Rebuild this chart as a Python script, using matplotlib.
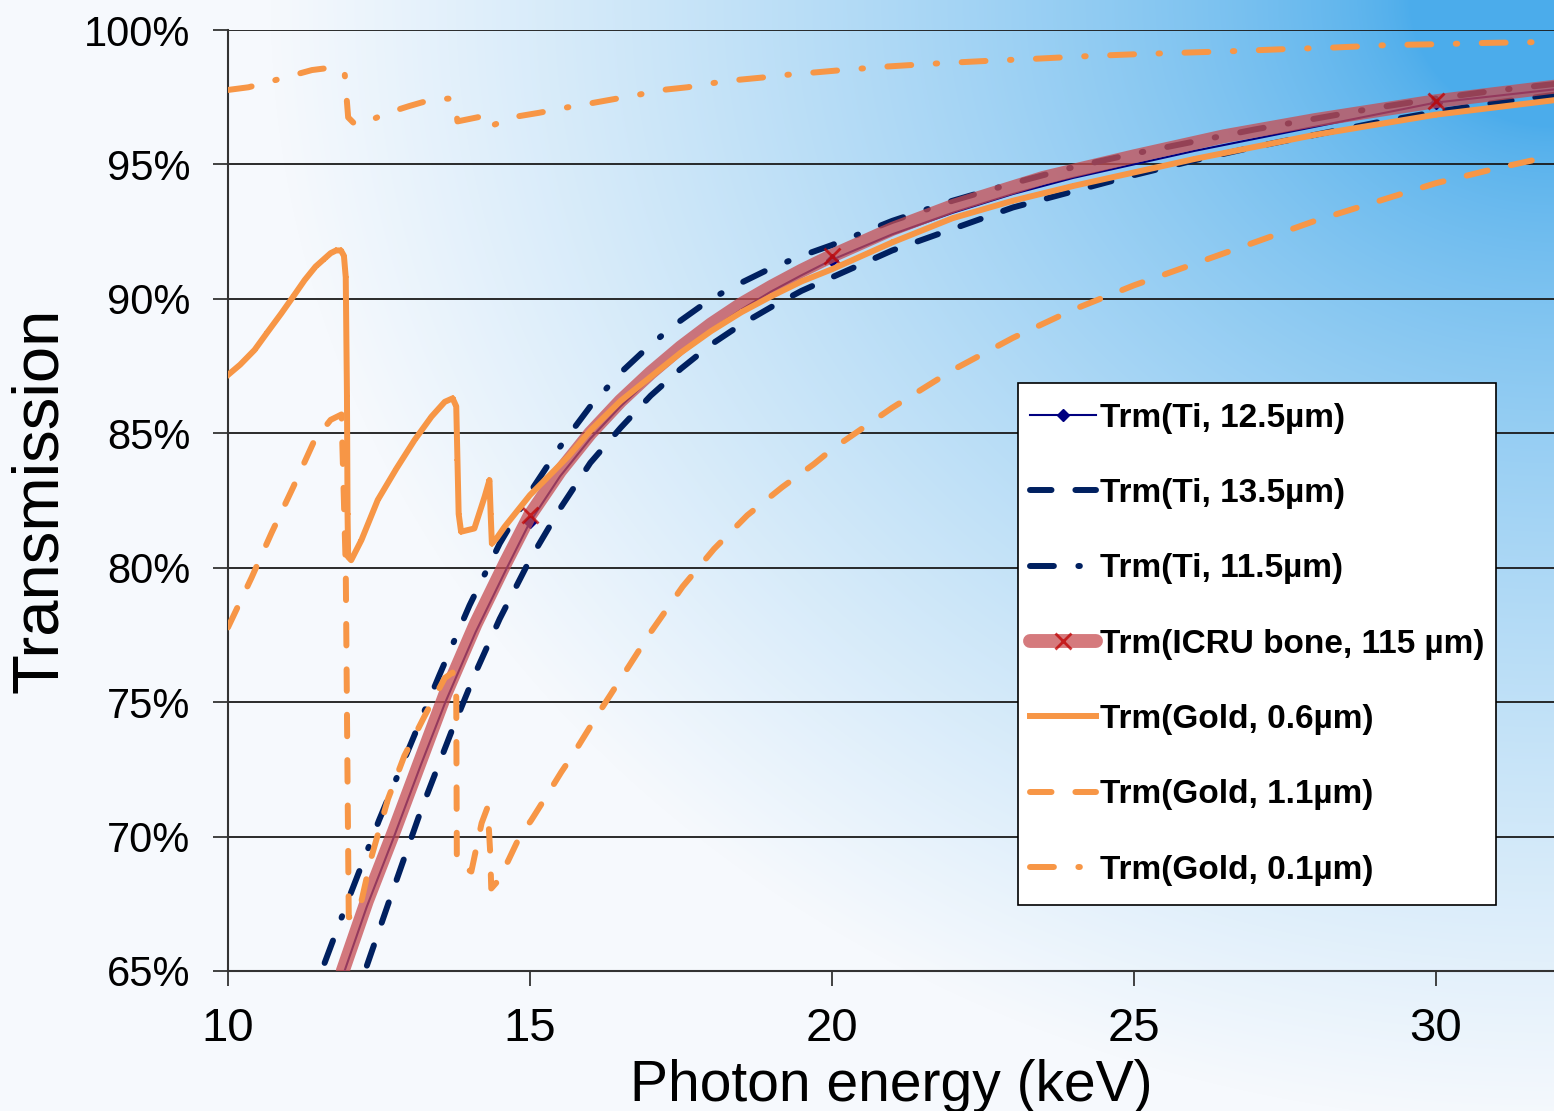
import numpy as np
import matplotlib
matplotlib.use("Agg")
import matplotlib.pyplot as plt
from matplotlib.patches import Rectangle
from matplotlib.ticker import FuncFormatter

plt.rcParams['font.family'] = ['Liberation Sans', 'DejaVu Sans']

# --- data (photon energy keV, transmission %) ---
e_ti125 = [11.93, 12.3, 12.75, 13.2, 13.6, 14.1, 14.62, 15.0, 15.5, 16.0, 16.5, 17.0, 17.5, 18.0,
           18.5, 19.0, 19.5, 20.0, 21.0, 22.0, 23.0, 24.0, 25.0, 26.0, 27.0, 28.0, 29.0, 30.0,
           31.0, 32.0]
t_ti125 = [65.0, 67.4, 70.0, 72.7, 75.0, 77.6, 80.0, 81.7, 83.4, 84.8, 86.0, 87.05, 88.0, 88.85,
           89.6, 90.28, 90.88, 91.45, 92.4, 93.2, 93.9, 94.5, 95.0, 95.5, 95.95, 96.4, 96.85, 97.3,
           97.55, 97.8]

e_ti135 = [12.3, 12.7, 13.2, 13.7, 14.1, 14.5, 15.0, 15.5, 16.0, 16.5, 17.0, 17.5, 18.0, 18.5,
           19.0, 19.5, 20.0, 21.0, 22.0, 23.0, 24.0, 25.0, 26.0, 27.0, 28.0, 29.0, 30.0, 31.0, 32.0]
t_ti135 = [65.2, 67.8, 71.0, 73.9, 76.1, 78.1, 80.3, 82.2, 83.9, 85.2, 86.4, 87.4, 88.3, 89.05,
           89.7, 90.3, 90.8, 91.8, 92.6, 93.4, 94.0, 94.6, 95.15, 95.65, 96.1, 96.55, 96.95, 97.3,
           97.6]

e_ti115 = [11.6, 12.0, 12.5, 13.0, 13.5, 14.0, 14.5, 15.0, 15.5, 16.0, 16.5, 17.0, 17.5, 18.0,
           18.5, 19.0, 19.5, 20.0, 21.0, 22.0, 23.0, 24.0, 25.0, 26.0, 27.0, 28.0, 29.0, 30.0,
           31.0, 32.0]
t_ti115 = [65.3, 67.7, 70.6, 73.3, 76.0, 78.6, 80.9, 82.8, 84.5, 86.0, 87.25, 88.3, 89.2, 90.0,
           90.6, 91.15, 91.6, 92.0, 92.9, 93.65, 94.3, 94.9, 95.4, 95.85, 96.3, 96.7, 97.1, 97.45,
           97.75, 98.0]

e_bone = [11.9, 12.3, 12.75, 13.2, 13.6, 14.1, 14.6, 15.0, 15.5, 16.0, 16.5, 17.0, 17.5, 18.0,
          18.5, 19.0, 19.5, 20.0, 21.0, 22.0, 23.5, 25.0, 26.5, 28.0, 30.0, 32.0]
t_bone = [65.0, 67.6, 70.2, 72.9, 75.3, 77.9, 80.2, 81.95, 83.6, 85.0, 86.2, 87.25, 88.2, 89.05,
          89.8, 90.45, 91.05, 91.6, 92.6, 93.45, 94.5, 95.3, 96.05, 96.65, 97.35, 97.9]

e_au06 = [10.0, 10.2, 10.44, 10.65, 10.88, 11.1, 11.27, 11.45, 11.6, 11.7, 11.79, 11.87, 11.92,
          11.95, 11.97, 11.98, 11.99, 12.04, 12.21, 12.48, 12.79, 13.09, 13.37, 13.59, 13.72, 13.78,
          13.8, 13.82, 13.86, 14.08, 14.25, 14.33, 14.35, 14.37, 14.45, 14.58, 14.8, 15.0, 15.3,
          15.63, 16.0, 16.5, 17.0, 17.5, 18.0, 18.5, 19.0, 19.5, 20.0, 21.0, 22.0, 23.0, 24.0,
          26.0, 28.0, 30.0, 32.0]
t_au06 = [87.17, 87.55, 88.1, 88.75, 89.45, 90.15, 90.7, 91.2, 91.5, 91.7, 91.8, 91.8, 91.6,
          90.8, 86.4, 82.0, 80.4, 80.28, 81.03, 82.52, 83.69, 84.75, 85.62, 86.17, 86.3, 86.0,
          84.0, 82.0, 81.34, 81.46, 82.64, 83.26, 82.0, 80.9, 81.1, 81.52, 82.14, 82.7, 83.38,
          84.13, 85.1, 86.2, 87.1, 88.0, 88.8, 89.5, 90.1, 90.65, 91.1, 92.1, 93.0, 93.65, 94.2,
          95.2, 96.1, 96.85, 97.4]

e_au11 = [10.0, 10.39, 10.72, 11.08, 11.43, 11.7, 11.88, 11.95, 11.98, 12.0, 12.1, 12.2, 12.37,
          12.65, 12.92, 13.26, 13.59, 13.72, 13.78, 13.79, 14.03, 14.2, 14.3, 14.34, 14.36, 14.47,
          14.64, 14.83, 15.02, 15.3, 15.52, 15.7, 16.14, 16.6, 17.0, 17.53, 18.05, 18.6, 19.18,
          19.7, 20.0, 21.0, 22.0, 23.0, 24.0, 25.0, 26.0, 27.0, 28.0, 29.0, 30.0, 31.0, 32.0]
t_au11 = [77.78, 79.63, 81.29, 83.0, 84.73, 85.5, 85.7, 80.0, 72.0, 67.0, 67.0, 67.5, 69.2,
          71.4, 73.0, 74.5, 75.9, 76.1, 75.2, 69.0, 68.7, 70.5, 71.1, 69.5, 68.07, 68.35,
          69.1, 70.0, 70.6, 71.6, 72.4, 73.0, 74.6, 76.2, 77.6, 79.3, 80.7, 81.95, 83.0,
          83.85, 84.4, 85.95, 87.35, 88.55, 89.6, 90.5, 91.3, 92.1, 92.9, 93.6, 94.3, 94.85, 95.35]

e_au01 = [10.0, 10.34, 10.79, 11.39, 11.6, 11.85, 11.93, 11.96, 11.99, 12.1, 12.22, 12.62, 13.0,
          13.4, 13.7, 13.76, 13.8, 14.17, 14.3, 14.34, 14.4, 14.75, 15.15, 15.56, 15.95, 16.37,
          16.77, 17.19, 17.61, 18.01, 18.42, 18.84, 19.24, 19.66, 20.07, 20.9, 21.77, 22.56, 23.37,
          24.25, 25.04, 25.88, 26.73, 27.52, 28.34, 29.22, 30.0, 30.85, 31.7, 32.0]
t_au01 = [97.77, 97.87, 98.14, 98.51, 98.57, 98.52, 98.45, 97.6, 96.75, 96.5, 96.5, 96.9, 97.17,
          97.43, 97.45, 97.3, 96.6, 96.77, 96.85, 96.5, 96.47, 96.77, 96.92, 97.1, 97.25, 97.42,
          97.58, 97.77, 97.87, 98.02, 98.14, 98.23, 98.33, 98.41, 98.49, 98.64, 98.76, 98.85, 98.93,
          99.03, 99.1, 99.16, 99.22, 99.29, 99.35, 99.44, 99.47, 99.52, 99.55, 99.56]

x_ticks = [10, 15, 20, 25, 30]
y_ticks = [65, 70, 75, 80, 85, 90, 95, 100]
marker_energies = [15.0, 20.0, 30.0]

labels = ['Trm(Ti, 12.5µm)', 'Trm(Ti, 13.5µm)', 'Trm(Ti, 11.5µm)', 'Trm(ICRU bone, 115 µm)',
          'Trm(Gold, 0.6µm)', 'Trm(Gold, 1.1µm)', 'Trm(Gold, 0.1µm)']

NAVY = '#000080'
DKBLUE = '#002060'
ORANGE = '#f79646'
BONE = (0.78, 0.30, 0.32)

W, H = 1554, 1111
fig = plt.figure(figsize=(W / 100, H / 100), dpi=100)

# background gradient (light blue from the top right corner)
bg = fig.add_axes([0, 0, 1, 1], zorder=0)
xx, yy = np.meshgrid(np.arange(W), np.arange(H))
r = np.sqrt(((W - xx) / 1200.0) ** 2 + (yy / 1050.0) ** 2)
s = (np.clip((r - 0.12) / 0.95, 0, 1) ** 0.7)[..., None]
blue = np.array([75, 172, 235]) / 255.0
white = np.array([246, 249, 253]) / 255.0
img = blue * (1 - s) + white * s
bg.imshow(img, aspect='auto', extent=[0, 1, 0, 1])
bg.axis('off')

left, right = 228 / W, 1.0
bottom, top = 1 - 971 / H, 1 - 30 / H
ax = fig.add_axes([left, bottom, right - left, top - bottom], zorder=1)
ax.set_facecolor('none')


def mk_idx(e):
    return [i for i, v in enumerate(e) if v in marker_energies]


dash = (3.6, 4.0)
dashdot = (4.0, 4.1, 0.25, 4.1)

h1, = ax.plot(e_ti125, t_ti125, color=NAVY, lw=1.5, marker='D', ms=6,
              markevery=mk_idx(e_ti125), zorder=3, label=labels[0])
h2, = ax.plot(e_ti135, t_ti135, color=DKBLUE, lw=4.3, dashes=dash,
              dash_capstyle='round', zorder=3, label=labels[1])
h3, = ax.plot(e_ti115, t_ti115, color=DKBLUE, lw=4.3, dashes=dashdot,
              dash_capstyle='round', zorder=3, label=labels[2])
h4, = ax.plot(e_bone, t_bone, color=BONE, alpha=0.75, lw=10, solid_capstyle='round',
              solid_joinstyle='round', marker='x', ms=11, mew=2, mec='#c00000',
              markevery=mk_idx(e_bone), zorder=4, label=labels[3])
h5, = ax.plot(e_au06, t_au06, color=ORANGE, lw=4.3, marker='+', ms=5, mew=1.1,
              solid_joinstyle='round', zorder=5, label=labels[4])
h6, = ax.plot(e_au11, t_au11, color=ORANGE, lw=4.3, dashes=dash,
              dash_capstyle='round', zorder=5, label=labels[5])
h7, = ax.plot(e_au01, t_au01, color=ORANGE, lw=4.3, dashes=dashdot,
              dash_capstyle='round', zorder=5, label=labels[6])

ax.set_xlim(10, 31.96)
ax.set_ylim(65, 100)
ax.set_xticks(x_ticks)
ax.set_yticks(y_ticks)
ax.yaxis.set_major_formatter(FuncFormatter(lambda v, p: f'{v:.0f}%'))

ax.yaxis.grid(True, color='#1a1a1a', lw=1.3)
ax.set_axisbelow(True)
for sp in ['top', 'right']:
    ax.spines[sp].set_visible(False)
for sp in ['left', 'bottom']:
    ax.spines[sp].set_color('#333333')
    ax.spines[sp].set_linewidth(1.5)

ax.tick_params(axis='y', direction='out', length=11, width=1.3, color='#333333',
               labelsize=30, pad=16)
ax.tick_params(axis='x', direction='out', length=11, width=1.3, color='#333333',
               labelsize=34, pad=15)

ax.set_xlabel('Photon energy (keV)', fontsize=41, labelpad=6)
ax.set_ylabel('Transmission', fontsize=47, labelpad=10)

# legend box drawn as its own rectangle so its size matches the original
box = Rectangle((0.5958, 0.0701), 0.9563 - 0.5958, 0.6249 - 0.0701, transform=ax.transAxes,
                facecolor='white', edgecolor='black', lw=1.2, zorder=9)
ax.add_patch(box)
leg = ax.legend(handles=[h1, h2, h3, h4, h5, h6, h7], loc='upper left',
                bbox_to_anchor=(0.5958, 0.6164), borderaxespad=0,
                prop={'weight': 'bold', 'size': 24}, frameon=False,
                handlelength=2.0, handletextpad=0.12, labelspacing=1.33,
                borderpad=0.35)
leg.set_zorder(10)

fig.savefig('out.png', dpi=100)
